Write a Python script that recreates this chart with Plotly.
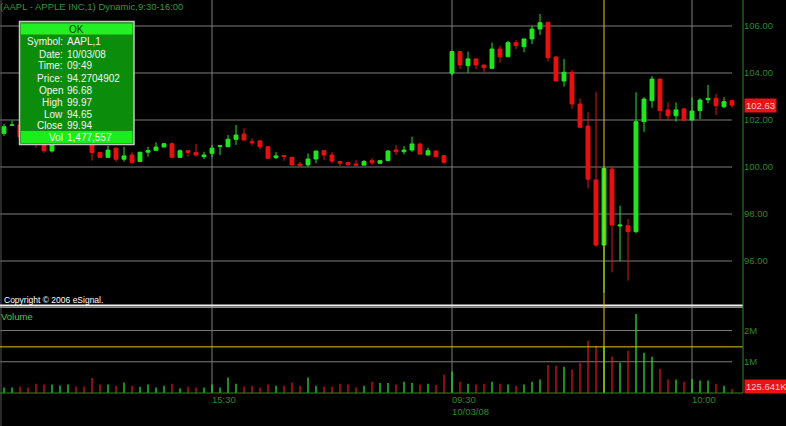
import plotly.graph_objects as go

# ---------------- data ----------------
times = ([f"15:{m:02d}" for m in range(4, 60)]
         + [f"09:{m:02d}" for m in range(30, 60)]
         + [f"10:{m:02d}" for m in range(0, 6)])

opens = [101.43, 101.77, 101.79, 101.30, 101.20, 101.10, 100.68, 101.00, 101.10, 101.30,
         101.20, 101.15, 100.62, 100.41, 100.80, 100.33, 100.51, 100.23, 100.63, 100.71,
         100.85, 100.99, 100.41, 100.69, 100.62, 100.44, 100.58, 100.88, 100.86, 101.18,
         101.40, 101.08, 101.11, 100.86, 100.40, 100.49, 100.41, 100.13, 100.09, 100.34,
         100.69, 100.51, 100.23, 100.18, 100.13, 100.08, 100.27, 100.16, 100.27, 100.72,
         100.65, 100.72, 100.98, 100.51, 100.68, 100.48,
         103.99, 104.91, 104.31, 104.60, 104.34, 104.20, 105.02, 104.69, 105.29, 105.12,
         105.45, 105.87, 106.16, 104.68, 103.66, 104.03, 102.68, 101.74, 99.45, 96.68,
         99.91, 97.49, 97.50, 97.25, 101.93, 102.82, 103.74, 102.43, 102.18, 102.47,
         102.00, 102.40, 102.86, 102.92, 102.56, 102.82]
highs = [101.83, 101.97, 101.95, 101.50, 101.30, 101.25, 101.15, 101.40, 101.35, 101.45,
         101.40, 101.25, 100.62, 100.91, 100.86, 100.86, 100.63, 100.63, 100.86, 101.05,
         101.03, 101.05, 100.75, 100.72, 100.98, 100.65, 100.94, 100.94, 101.36, 101.79,
         101.65, 101.22, 101.15, 100.89, 100.63, 100.51, 100.44, 100.23, 100.58, 100.68,
         100.72, 100.63, 100.27, 100.23, 100.30, 100.30, 100.37, 100.30, 100.72, 100.94,
         100.89, 101.29, 101.01, 100.82, 100.72, 100.51,
         104.95, 104.91, 104.91, 104.60, 104.34, 105.29, 105.16, 105.37, 105.40, 105.45,
         106.00, 106.51, 106.16, 104.72, 104.60, 104.13, 102.92, 102.33, 103.20, 99.97,
         100.01, 98.35, 97.79, 103.18, 102.97, 103.87, 103.77, 102.75, 102.75, 102.52,
         102.97, 102.92, 103.49, 103.11, 102.97, 102.85]
lows = [101.32, 101.76, 101.20, 101.05, 100.81, 100.60, 100.61, 101.00, 101.00, 101.05,
        101.05, 100.27, 100.38, 100.41, 100.23, 100.23, 100.20, 100.23, 100.44, 100.71,
        100.85, 100.41, 100.41, 100.44, 100.44, 100.34, 100.41, 100.51, 100.86, 100.94,
        101.11, 100.91, 100.75, 100.34, 100.34, 100.26, 100.05, 100.05, 100.01, 100.16,
        100.30, 100.16, 100.04, 100.04, 100.08, 100.04, 100.09, 100.12, 100.27, 100.51,
        100.54, 100.65, 100.54, 100.51, 100.44, 100.12,
        103.89, 104.17, 104.01, 104.17, 104.01, 104.17, 104.44, 104.69, 105.02, 104.88,
        105.23, 105.62, 104.48, 103.66, 103.42, 102.48, 101.65, 99.09, 96.60, 94.65,
        95.52, 96.00, 95.16, 97.18, 101.50, 102.52, 102.00, 101.96, 101.93, 101.93,
        102.00, 102.04, 102.71, 102.21, 102.52, 102.52]
closes = [101.71, 101.79, 101.28, 101.15, 101.05, 100.69, 101.00, 101.25, 101.30, 101.15,
          101.10, 100.62, 100.41, 100.72, 100.33, 100.47, 100.20, 100.63, 100.70, 100.85,
          100.99, 100.41, 100.69, 100.62, 100.51, 100.51, 100.80, 100.90, 101.18, 101.36,
          101.15, 101.03, 100.86, 100.37, 100.47, 100.45, 100.09, 100.05, 100.34, 100.68,
          100.51, 100.25, 100.16, 100.11, 100.08, 100.23, 100.18, 100.27, 100.68, 100.65,
          100.72, 100.98, 100.55, 100.69, 100.44, 100.20,
          104.91, 104.34, 104.60, 104.34, 104.22, 105.02, 104.69, 105.29, 105.16, 105.45,
          105.87, 106.14, 104.65, 103.66, 104.03, 102.68, 101.69, 99.48, 96.68, 99.94,
          97.53, 97.53, 97.25, 101.93, 102.89, 103.74, 102.40, 102.18, 102.43, 102.00,
          102.38, 102.85, 102.92, 102.61, 102.78, 102.63]
volumes = [180000, 180000, 210000, 180000, 300000, 270000, 270000, 240000, 270000, 210000,
           210000, 480000, 270000, 270000, 230000, 340000, 230000, 200000, 270000, 180000,
           230000, 300000, 150000, 200000, 180000, 180000, 270000, 180000, 500000, 300000,
           210000, 230000, 180000, 270000, 230000, 230000, 340000, 230000, 500000, 230000,
           210000, 210000, 300000, 270000, 180000, 230000, 360000, 320000, 320000, 270000,
           360000, 320000, 270000, 300000, 260000, 590000,
           690000, 360000, 300000, 270000, 300000, 360000, 300000, 270000, 230000, 270000,
           360000, 430000, 900000, 870000, 840000, 750000, 970000, 1670000, 1510000, 1477557,
           1170000, 970000, 1350000, 2530000, 1290000, 1160000, 780000, 430000, 430000, 360000,
           450000, 400000, 400000, 300000, 230000, 125641]

price_ticks = [96, 98, 100, 102, 104, 106]
vol_ticks = [1000000, 2000000]
vol_tick_text = ["1M", "2M"]
time_ticks = ["15:30", "09:30", "10:00"]
session_date = "10/03/08"
cursor_time = "09:49"
cursor_price = "94.2704902"
symbol = "AAPL,1"
title_text = "(AAPL - APPLE INC,1) Dynamic,9:30-16:00"

# ---------------- styling ----------------
UP = "#22e622"
DN = "#e61212"
GRID = "#7c7c7c"
AXG = "#2a8a2a"
TXTG = "#339933"
FONT = "Liberation Sans, Arial, sans-serif"
W, H = 786, 426
ML, MR, MT, MB = 0, 43, 0, 33
PW, PH = W - ML - MR, H - MT - MB   # plot area 743 x 393


def px_x(px):
    return px / PW


def px_y(py):
    return (PH - py) / PH


price_dom = [px_y(303), 1]
vol_dom = [0, px_y(309)]
price_range = [94.213, 107.106]
vol_range = [0, 2.69e6]

vol_colors = [UP if c >= o else DN for o, c in zip(opens, closes)]

fig = go.Figure()
fig.add_trace(go.Candlestick(
    x=times, open=opens, high=highs, low=lows, close=closes,
    increasing=dict(line=dict(color=UP, width=1), fillcolor=UP),
    decreasing=dict(line=dict(color=DN, width=1), fillcolor=DN),
    whiskerwidth=0, xaxis="x", yaxis="y", showlegend=False, hoverinfo="skip"))
fig.add_trace(go.Bar(
    x=times, y=volumes, width=0.16,
    marker=dict(color=vol_colors, line=dict(width=0)),
    xaxis="x", yaxis="y2", showlegend=False, hoverinfo="skip"))

shapes = []
for t in price_ticks:
    shapes.append(dict(type="line", xref="paper", yref="y", x0=0, x1=px_x(732),
                       y0=t, y1=t, line=dict(color=GRID, width=1), layer="below"))
for t in vol_ticks:
    shapes.append(dict(type="line", xref="paper", yref="y2", x0=0, x1=px_x(732),
                       y0=t, y1=t, line=dict(color=GRID, width=1), layer="below"))
for t in time_ticks:
    i = times.index(t)
    shapes.append(dict(type="line", xref="x", yref="paper", x0=i, x1=i, y0=0, y1=1,
                       line=dict(color=GRID, width=1), layer="below"))
shapes.append(dict(type="line", xref="paper", yref="paper", x0=px_x(1), x1=px_x(1),
                   y0=-MB / PH, y1=1, line=dict(color="#555555", width=1)))
shapes.append(dict(type="line", xref="paper", yref="paper", x0=0, x1=1,
                   y0=px_y(305.5), y1=px_y(305.5), line=dict(color="#f0f0f0", width=2)))
shapes.append(dict(type="line", xref="paper", yref="paper", x0=0, x1=1,
                   y0=px_y(307.5), y1=px_y(307.5), line=dict(color="#8a8a8a", width=1)))
ci = times.index(cursor_time)
shapes.append(dict(type="line", xref="x", yref="paper", x0=ci, x1=ci, y0=0, y1=1,
                   line=dict(color="#e6c21e", width=1)))
shapes.append(dict(type="line", xref="paper", yref="y2", x0=0, x1=1,
                   y0=volumes[ci], y1=volumes[ci], line=dict(color="#e6c21e", width=1)))
shapes.append(dict(type="line", xref="paper", yref="paper", x0=1, x1=1, y0=0, y1=1,
                   line=dict(color=AXG, width=1)))
shapes.append(dict(type="line", xref="paper", yref="paper", x0=0, x1=1, y0=0, y1=0,
                   line=dict(color=AXG, width=1)))
shapes.append(dict(type="rect", xref="paper", yref="paper", x0=px_x(19.5), x1=px_x(134),
                   y0=px_y(144.5), y1=px_y(21.5), fillcolor="#0b8c0b",
                   line=dict(color="#c8c8c8", width=1.5)))
shapes.append(dict(type="rect", xref="paper", yref="paper", x0=px_x(21), x1=px_x(132.5),
                   y0=px_y(34.5), y1=px_y(23.5), fillcolor="#22f022", line=dict(width=0)))
shapes.append(dict(type="rect", xref="paper", yref="paper", x0=px_x(21), x1=px_x(132.5),
                   y0=px_y(143), y1=px_y(131), fillcolor="#18ee18", line=dict(width=0)))

ann = []


def txt(text, x, y, color, size, xanchor="left", **kw):
    ann.append(dict(text=text, xref="paper", yref="paper", x=px_x(x), y=px_y(y),
                    xanchor=xanchor, yanchor="middle", showarrow=False,
                    font=dict(family=FONT, size=size, color=color), borderpad=0, **kw))


txt(title_text, -1, 6, TXTG, 9.5)
txt("Copyright © 2006 eSignal.", 3, 299.5, "#ffffff", 8.5)
txt("Volume", 0, 316.5, "#3ccc3c", 9.5)
for t in time_ticks:
    ann.append(dict(text=t, xref="x", yref="paper", x=times.index(t), y=px_y(399.5),
                    xanchor="left", yanchor="middle", showarrow=False, xshift=-2,
                    font=dict(family=FONT, size=9.5, color=AXG)))
ann.append(dict(text=session_date, xref="x", yref="paper", x=times.index(time_ticks[1]),
                y=px_y(411), xanchor="left", yanchor="middle", showarrow=False, xshift=-2,
                font=dict(family=FONT, size=9.5, color=AXG)))

txt("OK", 76, 29, "#0a3a0a", 10, xanchor="center")
rows = [("Symbol:", symbol), ("Date:", session_date), ("Time:", cursor_time),
        ("Price:", cursor_price), ("Open", f"{opens[ci]:.2f}"), ("High", f"{highs[ci]:.2f}"),
        ("Low", f"{lows[ci]:.2f}"), ("Close", f"{closes[ci]:.2f}"),
        ("Vol", f"{volumes[ci]:,}")]
for k, (lab, val) in enumerate(rows):
    yy = 42 + 12 * k - (0.5 if k == 8 else 0)
    txt(lab, 63.5, yy, "#f4f4f4", 10, xanchor="right")
    txt(val, 66, yy, "#f4f4f4", 10)

ann.append(dict(text=f"{closes[-1]:.2f}", xref="paper", yref="y", x=1, y=closes[-1],
                xanchor="left", yanchor="middle", showarrow=False, xshift=1,
                bgcolor="#e81414", borderpad=1,
                font=dict(family=FONT, size=9.5, color="#f6caca")))
ann.append(dict(text=f"{volumes[-1] / 1000:.3f}K", xref="paper", yref="y2", x=1, y=volumes[-1],
                xanchor="left", yanchor="middle", showarrow=False, xshift=1, yshift=2.5,
                bgcolor="#e81414", borderpad=1,
                font=dict(family=FONT, size=9.5, color="#f6caca")))

fig.update_layout(
    width=W, height=H, margin=dict(l=ML, r=MR, t=MT, b=MB),
    paper_bgcolor="#000000", plot_bgcolor="#000000",
    font=dict(family=FONT, color=TXTG, size=9.5),
    showlegend=False, hovermode=False,
    xaxis=dict(type="category", categoryorder="array", categoryarray=times,
               range=[-0.5, PW / 8 - 0.5], anchor="y2", showticklabels=False,
               showgrid=False, zeroline=False, showline=False, ticks="",
               rangeslider=dict(visible=False), fixedrange=True),
    yaxis=dict(domain=price_dom, range=price_range, side="right", anchor="x",
               tickvals=price_ticks, ticktext=[f"{t:.2f}" for t in price_ticks],
               showgrid=False, zeroline=False, showline=False, ticks="",
               tickfont=dict(family=FONT, size=9.5, color=AXG)),
    yaxis2=dict(domain=vol_dom, range=vol_range, side="right", anchor="x",
                tickvals=vol_ticks, ticktext=vol_tick_text,
                showgrid=False, zeroline=False, showline=False, ticks="",
                tickfont=dict(family=FONT, size=9.5, color=AXG)),
    shapes=shapes, annotations=ann,
)

fig.write_html(
    "out.html",
    config={"displayModeBar": False, "staticPlot": True},
    post_script="document.body.style.margin='0';document.body.style.background='#000';",
)
